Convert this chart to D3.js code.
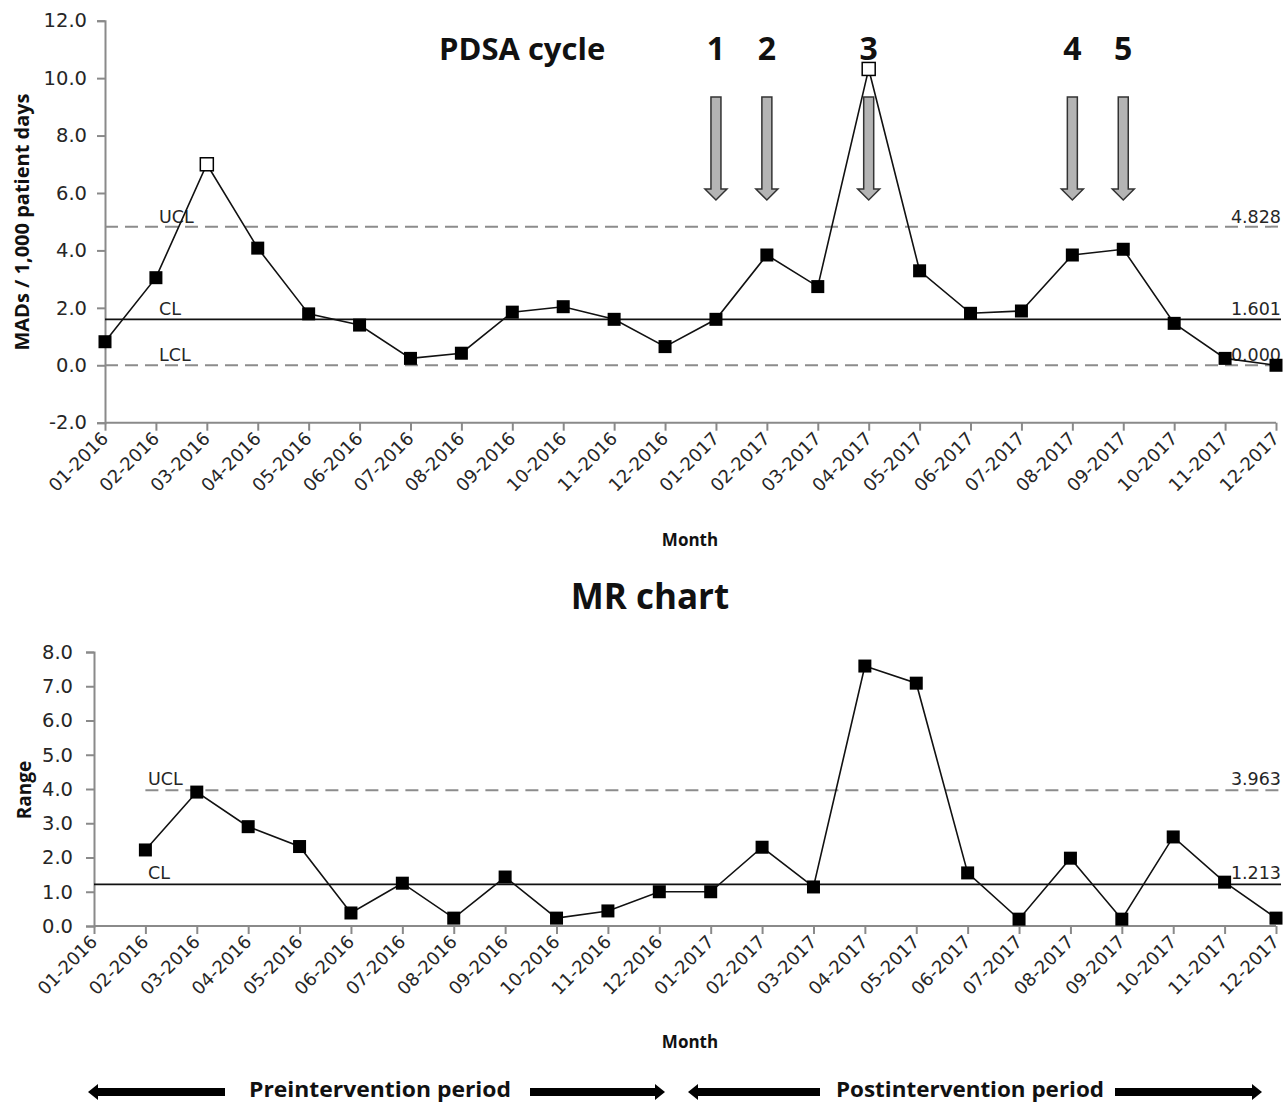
<!DOCTYPE html>
<html>
<head>
<meta charset="utf-8">
<script src="https://cdn.jsdelivr.net/npm/d3@7"></script>
<style>
  html, body { margin: 0; padding: 0; background: #fff; }
  svg { display: block; }
</style>
</head>
<body>
<svg id="chart" width="1283" height="1103"></svg>
<script>
// ---------------- DATA ----------------
const months = ["01-2016","02-2016","03-2016","04-2016","05-2016","06-2016","07-2016","08-2016","09-2016","10-2016","11-2016","12-2016",
                "01-2017","02-2017","03-2017","04-2017","05-2017","06-2017","07-2017","08-2017","09-2017","10-2017","11-2017","12-2017"];
const madValues = [0.82, 3.05, 7.00, 4.08, 1.79, 1.40, 0.24, 0.42, 1.85, 2.04, 1.60, 0.65,
                   1.60, 3.84, 2.74, 10.32, 3.29, 1.81, 1.89, 3.84, 4.04, 1.46, 0.24, 0.00];
const mrValues = [null, 2.22, 3.91, 2.90, 2.32, 0.38, 1.25, 0.23, 1.43, 0.23, 0.44, 1.00,
                  1.00, 2.30, 1.14, 7.59, 7.09, 1.55, 0.20, 1.98, 0.20, 2.60, 1.28, 0.23];
const madLimits = { UCL: 4.828, CL: 1.601, LCL: 0.000 };
const mrLimits = { UCL: 3.963, CL: 1.213 };
const madTicks = [-2, 0, 2, 4, 6, 8, 10, 12];
const mrTicks = [0, 1, 2, 3, 4, 5, 6, 7, 8];
const pdsaLabels = ["1", "2", "3", "4", "5"];
const pdsaMonths = ["01-2017", "02-2017", "04-2017", "08-2017", "09-2017"];
const periodLabels = ["Preintervention period", "Postintervention period"];

// ---------------- SETUP ----------------
const svg = d3.select("#chart");
const TICK_FONT = "'DejaVu Sans', Verdana, sans-serif";
const BOLD_FONT = "'Open Sans', 'Noto Sans', sans-serif";
const AXIS_COLOR = "#8a8a8a";
const DASH_COLOR = "#8c8c8c";
const TEXT_COLOR = "#262626";
const fmt1 = v => d3.format(".1f")(v).replace("\u2212", "-");

function styleAxis(g) {
  g.select(".domain").attr("stroke", AXIS_COLOR).attr("stroke-width", 2);
  g.selectAll(".tick line").attr("stroke", AXIS_COLOR).attr("stroke-width", 2);
  g.selectAll(".tick text").attr("fill", TEXT_COLOR).style("font-family", TICK_FONT).style("font-size", "19.5px");
}

function drawPanel(opts) {
  const { x, y, values, limits, ticks, yTitle, yTitleX, yTitleY, labelPad, limitStartIndex, hasLCL, labelYOffset } = opts;
  const g = svg.append("g");
  const x0 = x.range()[0], x1 = x.range()[1];
  const yBase = y.range()[0];

  // y axis
  const ya = g.append("g").attr("transform", `translate(${x0},0)`)
    .call(d3.axisLeft(y).tickValues(ticks).tickFormat(fmt1).tickSize(8).tickPadding(labelPad));
  styleAxis(ya);

  // x axis
  const xa = g.append("g").attr("transform", `translate(0,${yBase})`)
    .call(d3.axisBottom(x).tickSize(8).tickFormat(""));
  xa.select(".domain").attr("d", `M${x0},0H${x1}`);
  styleAxis(xa);
  xa.selectAll(".tick").append("text")
    .attr("fill", TEXT_COLOR)
    .style("font-family", TICK_FONT).style("font-size", "18px")
    .attr("text-anchor", "end")
    .attr("transform", "translate(0,13) rotate(-45)")
    .attr("dy", "0.3em")
    .text(d => d);

  // control lines
  const lineEnd = 1281;
  const ucx = x(months[limitStartIndex]);
  g.append("line").attr("x1", ucx).attr("x2", lineEnd).attr("y1", y(limits.UCL)).attr("y2", y(limits.UCL))
    .attr("stroke", DASH_COLOR).attr("stroke-width", 2).attr("stroke-dasharray", "13,7");
  g.append("line").attr("x1", x0).attr("x2", lineEnd).attr("y1", y(limits.CL)).attr("y2", y(limits.CL))
    .attr("stroke", "#111").attr("stroke-width", 1.8);
  if (hasLCL) {
    g.append("line").attr("x1", x0).attr("x2", lineEnd).attr("y1", y(limits.LCL)).attr("y2", y(limits.LCL))
      .attr("stroke", DASH_COLOR).attr("stroke-width", 2).attr("stroke-dasharray", "13,7");
  }
  const limitKeys = hasLCL ? ["UCL", "CL", "LCL"] : ["UCL", "CL"];
  limitKeys.forEach(k => {
    g.append("text").attr("x", opts.limitLabelX).attr("y", y(limits[k]) - labelYOffset)
      .attr("fill", TEXT_COLOR).style("font-family", TICK_FONT).style("font-size", "17.5px").text(k);
    g.append("text").attr("x", 1281).attr("y", y(limits[k]) - labelYOffset).attr("text-anchor", "end")
      .attr("fill", TEXT_COLOR).style("font-family", TICK_FONT).style("font-size", "17.5px").text(d3.format(".3f")(limits[k]));
  });

  // data line
  const pts = months.map((m, i) => ({ m, v: values[i] })).filter(d => d.v !== null);
  g.append("path").datum(pts)
    .attr("fill", "none").attr("stroke", "#111").attr("stroke-width", 1.6)
    .attr("d", d3.line().x(d => x(d.m)).y(d => y(d.v)));

  // markers
  const s = 13;
  g.selectAll("rect.pt").data(pts).join("rect")
    .attr("x", d => x(d.m) - s / 2).attr("y", d => y(d.v) - s / 2)
    .attr("width", s).attr("height", s)
    .attr("fill", d => (opts.hollowAbove && d.v > limits.UCL) ? "#fff" : "#000")
    .attr("stroke", "#000").attr("stroke-width", d => (opts.hollowAbove && d.v > limits.UCL) ? 1.5 : 0);

  // y title
  g.append("text").attr("transform", `translate(${yTitleX},${yTitleY}) rotate(-90)`)
    .attr("text-anchor", "middle").attr("dy", "0.35em")
    .attr("fill", "#111").style("font-family", BOLD_FONT).style("font-weight", 700).style("font-size", opts.yTitleSize)
    .text(yTitle);

  // x title
  g.append("text").attr("x", 690).attr("y", opts.monthY).attr("text-anchor", "middle")
    .attr("fill", "#111").style("font-family", BOLD_FONT).style("font-weight", 700).style("font-size", "17px")
    .text("Month");
  return g;
}

// ---------------- TOP PANEL (individuals chart) ----------------
const xTop = d3.scalePoint().domain(months).range([105, 1276]);
const yTop = d3.scaleLinear().domain([-2, 12]).range([422.7, 20.7]);
drawPanel({ x: xTop, y: yTop, values: madValues, limits: madLimits, ticks: madTicks,
  yTitle: "MADs / 1,000 patient days", yTitleX: 22, yTitleY: 222, labelPad: 10, yTitleSize: "20px",
  limitStartIndex: 0, hasLCL: true, hollowAbove: true, monthY: 546, limitLabelX: 159, labelYOffset: 4 });

// PDSA annotations
svg.append("text").attr("x", 439).attr("y", 60)
  .attr("fill", "#111").style("font-family", BOLD_FONT).style("font-weight", 700).style("font-size", "31px")
  .text("PDSA cycle");
pdsaMonths.forEach((m, i) => {
  const cx = xTop(m);
  svg.append("text").attr("x", cx).attr("y", 60).attr("text-anchor", "middle")
    .attr("fill", "#111").style("font-family", BOLD_FONT).style("font-weight", 700).style("font-size", "32px")
    .text(pdsaLabels[i]);
  const top = 97, neck = 189, tip = 200, sw = 5, hw = 11;
  svg.append("path")
    .attr("d", `M${cx - sw},${top}H${cx + sw}V${neck}H${cx + hw}L${cx},${tip}L${cx - hw},${neck}H${cx - sw}Z`)
    .attr("fill", "#b4b4b4").attr("stroke", "#333").attr("stroke-width", 1.5);
});

// ---------------- BOTTOM PANEL (MR chart) ----------------
const xBot = d3.scalePoint().domain(months).range([94, 1276]);
const yBot = d3.scaleLinear().domain([0, 8]).range([926, 652]);
svg.append("text").attr("x", 650).attr("y", 609).attr("text-anchor", "middle")
  .attr("fill", "#111").style("font-family", BOLD_FONT).style("font-weight", 700).style("font-size", "35px")
  .text("MR chart");
drawPanel({ x: xBot, y: yBot, values: mrValues, limits: mrLimits, ticks: mrTicks,
  yTitle: "Range", yTitleX: 24, yTitleY: 790, labelPad: 13, yTitleSize: "19px",
  limitStartIndex: 1, hasLCL: false, hollowAbove: false, monthY: 1048, limitLabelX: 148, labelYOffset: 5 });

// ---------------- PERIOD LEGEND ----------------
function hArrow(xFrom, xTo, yc) {
  const dir = Math.sign(xTo - xFrom);
  const headLen = 10, sh = 4, hh = 8;
  const neck = xTo - dir * headLen;
  svg.append("path")
    .attr("d", `M${xFrom},${yc - sh}L${neck},${yc - sh}L${neck},${yc - hh}L${xTo},${yc}L${neck},${yc + hh}L${neck},${yc + sh}L${xFrom},${yc + sh}Z`)
    .attr("fill", "#000");
}
const legendY = 1092;
hArrow(225, 88, legendY);
hArrow(530, 665, legendY);
hArrow(820, 688, legendY);
hArrow(1115, 1262, legendY);
[[380, periodLabels[0], 262], [970, periodLabels[1], 268]].forEach(([cx, t, len]) => {
  svg.append("text").attr("x", cx).attr("y", 1097).attr("text-anchor", "middle")
    .attr("fill", "#111").style("font-family", BOLD_FONT).style("font-weight", 700).style("font-size", "21px")
    .attr("textLength", len).attr("lengthAdjust", "spacingAndGlyphs")
    .text(t);
});
</script>
</body>
</html>
